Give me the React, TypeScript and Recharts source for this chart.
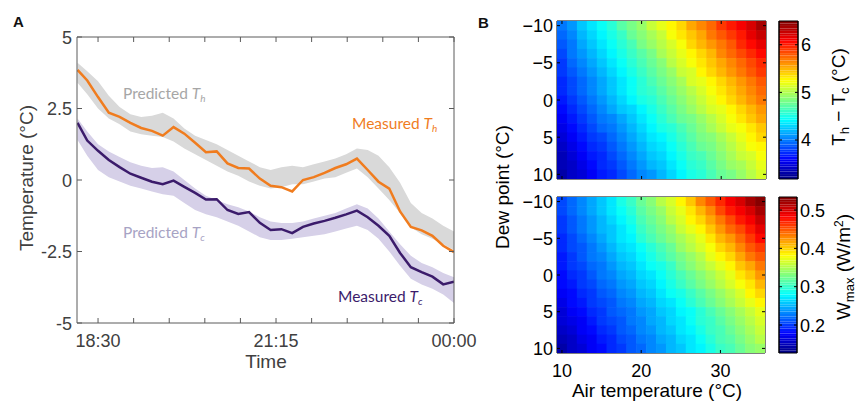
import React from 'react';
import { ComposedChart, Line, Area, XAxis, YAxis, ScatterChart, Scatter, ReferenceArea } from 'recharts';

// ---- panel A: temperatures over the evening (minutes after 18:30) ----
const times = [-19, -10, 0, 10, 20, 30, 40, 50, 60, 70, 80, 90, 100, 110, 120, 130, 140, 150, 160, 170, 180, 190, 200, 210, 220, 230, 240, 250, 260, 270, 280, 290, 300, 310, 320, 330];
const measuredTh = [3.85, 3.48, 2.9, 2.35, 2.21, 2.0, 1.82, 1.72, 1.55, 1.85, 1.62, 1.3, 0.97, 1.0, 0.58, 0.42, 0.4, 0.05, -0.2, -0.25, -0.4, 0.0, 0.1, 0.25, 0.42, 0.55, 0.75, 0.35, -0.06, -0.3, -1.1, -1.64, -1.76, -1.95, -2.3, -2.52];
const measuredTc = [2.0, 1.38, 1.02, 0.7, 0.45, 0.22, 0.08, -0.06, -0.15, -0.02, -0.24, -0.45, -0.68, -0.67, -1.05, -1.19, -1.12, -1.5, -1.75, -1.72, -1.86, -1.64, -1.52, -1.43, -1.32, -1.2, -1.07, -1.3, -1.6, -1.95, -2.55, -3.05, -3.22, -3.38, -3.65, -3.56];
const predThHigh = [4.1, 3.8, 3.45, 2.95, 2.55, 2.3, 2.2, 2.25, 2.35, 2.15, 1.8, 1.55, 1.4, 1.25, 1.05, 0.85, 0.65, 0.45, 0.35, 0.45, 0.5, 0.45, 0.55, 0.65, 0.75, 0.9, 1.1, 1.05, 0.85, 0.45, -0.1, -0.8, -1.15, -1.35, -1.6, -1.8];
const predThLow = [3.4, 3.0, 2.5, 2.15, 1.95, 1.7, 1.6, 1.55, 1.5, 1.35, 1.1, 0.9, 0.7, 0.5, 0.3, 0.15, -0.05, -0.2, -0.3, -0.25, -0.15, -0.15, -0.05, 0.05, 0.1, 0.25, 0.4, 0.1, -0.3, -0.7, -1.15, -1.65, -1.9, -2.05, -2.25, -2.45];
const predTcHigh = [2.15, 1.7, 1.25, 1.0, 0.8, 0.62, 0.5, 0.42, 0.45, 0.3, 0.0, -0.3, -0.55, -0.7, -0.85, -0.95, -1.1, -1.3, -1.45, -1.5, -1.5, -1.45, -1.35, -1.25, -1.15, -1.0, -0.85, -1.0, -1.35, -1.8, -2.25, -2.65, -2.9, -3.05, -3.25, -3.4];
const predTcLow = [1.4, 0.85, 0.35, 0.1, -0.05, -0.2, -0.3, -0.4, -0.5, -0.55, -0.8, -1.05, -1.2, -1.3, -1.45, -1.6, -1.8, -2.0, -2.1, -2.1, -2.05, -2.0, -1.95, -1.9, -1.8, -1.7, -1.6, -1.75, -2.05, -2.5, -3.0, -3.45, -3.65, -3.8, -4.0, -4.3];

const timeTicks = [0, 33, 66, 99, 132, 165, 198, 231, 264, 297, 330];
const timeTickLabels: Record<number, string> = { 0: '18:30', 165: '21:15', 330: '00:00' };
const tempTicks = [-5, -2.5, 0, 2.5, 5];

// ---- panel B: model maps over air temperature x dew point ----
const airTemps = [10, 11.25, 12.5, 13.75, 15, 16.25, 17.5, 18.75, 20, 21.25, 22.5, 23.75, 25, 26.25, 27.5, 28.75, 30, 31.25, 32.5, 33.75, 35];
const dewPoints = [-10, -8.75, -7.5, -6.25, -5, -3.75, -2.5, -1.25, 0, 1.25, 2.5, 3.75, 5, 6.25, 7.5, 8.75, 10];
const airTicks = [10, 20, 30];
const dewTicks = [-10, -5, 0, 5, 10];

// rows follow dewPoints, columns follow airTemps
const deltaTRows = [
  [3.98, 4.10, 4.22, 4.34, 4.46, 4.58, 4.69, 4.81, 4.93, 5.05, 5.17, 5.29, 5.40, 5.52, 5.64, 5.76, 5.88, 6.00, 6.11, 6.23, 6.35],
  [3.93, 4.05, 4.17, 4.28, 4.40, 4.51, 4.63, 4.74, 4.86, 4.98, 5.09, 5.21, 5.32, 5.44, 5.56, 5.67, 5.79, 5.90, 6.02, 6.14, 6.25],
  [3.89, 4.00, 4.12, 4.23, 4.34, 4.46, 4.57, 4.68, 4.80, 4.91, 5.02, 5.14, 5.25, 5.37, 5.48, 5.59, 5.71, 5.82, 5.93, 6.05, 6.16],
  [3.84, 3.96, 4.07, 4.18, 4.29, 4.40, 4.51, 4.62, 4.73, 4.84, 4.95, 5.06, 5.18, 5.29, 5.40, 5.51, 5.62, 5.73, 5.84, 5.95, 6.06],
  [3.80, 3.91, 4.02, 4.13, 4.24, 4.35, 4.45, 4.56, 4.67, 4.78, 4.89, 5.00, 5.11, 5.22, 5.32, 5.43, 5.54, 5.65, 5.76, 5.87, 5.98],
  [3.77, 3.88, 3.98, 4.09, 4.20, 4.30, 4.41, 4.52, 4.62, 4.73, 4.84, 4.94, 5.05, 5.15, 5.26, 5.37, 5.47, 5.58, 5.69, 5.79, 5.90],
  [3.74, 3.85, 3.95, 4.06, 4.16, 4.26, 4.37, 4.47, 4.58, 4.68, 4.78, 4.89, 4.99, 5.10, 5.20, 5.30, 5.41, 5.51, 5.61, 5.72, 5.82],
  [3.72, 3.82, 3.92, 4.02, 4.12, 4.22, 4.33, 4.43, 4.53, 4.63, 4.73, 4.83, 4.94, 5.04, 5.14, 5.24, 5.34, 5.44, 5.54, 5.65, 5.75],
  [3.69, 3.79, 3.89, 3.99, 4.09, 4.19, 4.29, 4.39, 4.49, 4.58, 4.68, 4.78, 4.88, 4.98, 5.08, 5.18, 5.28, 5.38, 5.47, 5.57, 5.67],
  [3.64, 3.73, 3.83, 3.93, 4.03, 4.13, 4.22, 4.32, 4.42, 4.52, 4.62, 4.71, 4.81, 4.91, 5.01, 5.11, 5.20, 5.30, 5.40, 5.50, 5.60],
  [3.58, 3.68, 3.77, 3.87, 3.97, 4.06, 4.16, 4.26, 4.35, 4.45, 4.55, 4.65, 4.74, 4.84, 4.94, 5.03, 5.13, 5.23, 5.32, 5.42, 5.52],
  [3.53, 3.62, 3.72, 3.81, 3.91, 4.01, 4.10, 4.20, 4.29, 4.39, 4.49, 4.58, 4.68, 4.77, 4.87, 4.97, 5.06, 5.16, 5.25, 5.35, 5.45],
  [3.47, 3.57, 3.66, 3.76, 3.85, 3.95, 4.04, 4.14, 4.23, 4.33, 4.42, 4.52, 4.61, 4.70, 4.80, 4.89, 4.99, 5.08, 5.18, 5.27, 5.37],
  [3.43, 3.52, 3.61, 3.71, 3.80, 3.90, 3.99, 4.08, 4.18, 4.27, 4.37, 4.46, 4.55, 4.65, 4.74, 4.83, 4.93, 5.02, 5.11, 5.21, 5.30],
  [3.38, 3.47, 3.57, 3.66, 3.75, 3.85, 3.94, 4.03, 4.12, 4.22, 4.31, 4.40, 4.50, 4.59, 4.68, 4.77, 4.87, 4.96, 5.05, 5.15, 5.24],
  [3.34, 3.43, 3.52, 3.62, 3.71, 3.80, 3.89, 3.98, 4.07, 4.17, 4.26, 4.35, 4.44, 4.53, 4.62, 4.72, 4.81, 4.90, 4.99, 5.08, 5.17],
  [3.30, 3.39, 3.48, 3.57, 3.66, 3.75, 3.84, 3.93, 4.02, 4.11, 4.20, 4.30, 4.39, 4.48, 4.57, 4.66, 4.75, 4.84, 4.93, 5.02, 5.11],
];
const deltaTRange: [number, number] = [3.18, 6.5];
const deltaTTicks = [4, 5, 6];

const wmaxRows = [
  [0.208, 0.221, 0.234, 0.247, 0.259, 0.272, 0.286, 0.302, 0.319, 0.335, 0.351, 0.368, 0.385, 0.405, 0.426, 0.446, 0.467, 0.486, 0.501, 0.515, 0.530],
  [0.205, 0.218, 0.230, 0.243, 0.255, 0.268, 0.281, 0.296, 0.312, 0.328, 0.343, 0.359, 0.375, 0.394, 0.413, 0.432, 0.452, 0.471, 0.486, 0.501, 0.517],
  [0.202, 0.215, 0.227, 0.240, 0.252, 0.264, 0.277, 0.291, 0.306, 0.321, 0.336, 0.351, 0.366, 0.383, 0.400, 0.418, 0.437, 0.456, 0.472, 0.488, 0.504],
  [0.199, 0.211, 0.224, 0.236, 0.248, 0.260, 0.272, 0.285, 0.300, 0.313, 0.328, 0.342, 0.357, 0.371, 0.387, 0.403, 0.422, 0.440, 0.457, 0.474, 0.490],
  [0.196, 0.208, 0.220, 0.232, 0.244, 0.256, 0.267, 0.279, 0.293, 0.306, 0.320, 0.333, 0.347, 0.360, 0.374, 0.389, 0.407, 0.425, 0.442, 0.460, 0.477],
  [0.193, 0.205, 0.216, 0.227, 0.239, 0.250, 0.261, 0.272, 0.285, 0.297, 0.311, 0.324, 0.337, 0.351, 0.364, 0.379, 0.396, 0.412, 0.429, 0.446, 0.463],
  [0.190, 0.201, 0.212, 0.223, 0.234, 0.244, 0.255, 0.266, 0.278, 0.289, 0.301, 0.314, 0.328, 0.341, 0.355, 0.369, 0.384, 0.400, 0.416, 0.433, 0.449],
  [0.187, 0.197, 0.207, 0.218, 0.228, 0.238, 0.248, 0.259, 0.270, 0.280, 0.292, 0.305, 0.318, 0.332, 0.345, 0.358, 0.373, 0.387, 0.402, 0.419, 0.435],
  [0.184, 0.194, 0.203, 0.213, 0.223, 0.232, 0.242, 0.252, 0.262, 0.271, 0.282, 0.295, 0.308, 0.322, 0.335, 0.348, 0.361, 0.374, 0.389, 0.405, 0.420],
  [0.179, 0.189, 0.198, 0.208, 0.218, 0.227, 0.236, 0.246, 0.256, 0.265, 0.276, 0.288, 0.300, 0.313, 0.326, 0.339, 0.351, 0.364, 0.379, 0.394, 0.408],
  [0.174, 0.184, 0.193, 0.203, 0.213, 0.221, 0.231, 0.240, 0.250, 0.259, 0.269, 0.280, 0.291, 0.304, 0.317, 0.329, 0.342, 0.354, 0.368, 0.382, 0.396],
  [0.169, 0.178, 0.187, 0.197, 0.207, 0.216, 0.225, 0.234, 0.244, 0.253, 0.263, 0.273, 0.283, 0.294, 0.307, 0.320, 0.332, 0.344, 0.358, 0.371, 0.383],
  [0.164, 0.173, 0.182, 0.192, 0.202, 0.210, 0.219, 0.228, 0.238, 0.247, 0.256, 0.265, 0.274, 0.285, 0.298, 0.310, 0.322, 0.334, 0.347, 0.359, 0.371],
  [0.159, 0.168, 0.177, 0.187, 0.197, 0.205, 0.215, 0.224, 0.234, 0.243, 0.252, 0.261, 0.270, 0.281, 0.293, 0.305, 0.317, 0.328, 0.341, 0.352, 0.364],
  [0.154, 0.163, 0.172, 0.182, 0.192, 0.201, 0.210, 0.220, 0.229, 0.239, 0.248, 0.257, 0.267, 0.277, 0.288, 0.300, 0.311, 0.322, 0.334, 0.346, 0.357],
  [0.148, 0.158, 0.167, 0.177, 0.187, 0.196, 0.206, 0.215, 0.225, 0.234, 0.244, 0.253, 0.263, 0.273, 0.283, 0.294, 0.306, 0.316, 0.328, 0.339, 0.350],
  [0.143, 0.153, 0.162, 0.172, 0.182, 0.191, 0.201, 0.211, 0.220, 0.230, 0.240, 0.249, 0.259, 0.269, 0.278, 0.289, 0.300, 0.310, 0.321, 0.332, 0.343],
];
const wmaxRange: [number, number] = [0.127, 0.534];
const wmaxTicks = [0.2, 0.3, 0.4, 0.5];

const SANS = '"Liberation Sans", Arial, Helvetica, sans-serif';
const ANNOT = 'Lato, "Open Sans", sans-serif';
const AXIS_A = '#5a5a5a';
const TEXT_A = '#404040';
const ORANGE = '#f07c1e';
const PURPLE = '#3b1b6b';

// MATLAB-like jet, 64 steps
const jet = (n: number) => {
  const k = Math.min(63, Math.max(0, Math.floor(n * 64)));
  const v = (k + 0.5) / 64;
  const c = (a: number) => Math.round(255 * Math.max(0, Math.min(1, a)));
  const r = c(Math.min(4 * v - 1.5, -4 * v + 4.5));
  const g = c(Math.min(4 * v - 0.5, -4 * v + 3.5));
  const b = c(Math.min(4 * v + 0.5, -4 * v + 2.5));
  return `rgb(${r},${g},${b})`;
};

const seriesRows = times.map((t, i) => ({
  t,
  th: measuredTh[i],
  tc: measuredTc[i],
  thBand: [predThLow[i], predThHigh[i]],
  tcBand: [predTcLow[i], predTcHigh[i]],
}));

const gridRows = (rows: number[][]) =>
  dewPoints.flatMap((dew, i) => airTemps.map((air, j) => ({ air, dew, v: rows[i][j] })));

const fmtNeg = (v: number) => (v < 0 ? '\u2212' + Math.abs(v) : String(v));

// ---- tick renderers (inward ticks, matlab style) ----
const timeTickBottom = (p: any) => (
  <g>
    <line x1={p.x} x2={p.x} y1={p.y} y2={p.y - 5} stroke={AXIS_A} />
    {timeTickLabels[p.payload.value] && (
      <text x={p.x} y={p.y + 24} textAnchor="middle" fill={TEXT_A} fontSize={18} fontFamily={SANS}>
        {timeTickLabels[p.payload.value]}
      </text>
    )}
  </g>
);
const timeTickTop = (p: any) => <line x1={p.x} x2={p.x} y1={p.y} y2={p.y + 5} stroke={AXIS_A} />;
const tempTickLeft = (p: any) => (
  <g>
    <line x1={p.x} x2={p.x + 5} y1={p.y} y2={p.y} stroke={AXIS_A} />
    <text x={p.x - 5} y={p.y + 6.5} textAnchor="end" fill={TEXT_A} fontSize={18} fontFamily={SANS}>
      {String(p.payload.value)}
    </text>
  </g>
);
const tempTickRight = (p: any) => <line x1={p.x} x2={p.x - 5} y1={p.y} y2={p.y} stroke={AXIS_A} />;

const hmTickBottom = (labels: boolean) => (p: any) => (
  <g>
    <line x1={p.x} x2={p.x} y1={p.y} y2={p.y - 3} stroke="#000" />
    {labels && (
      <text x={p.x} y={p.y + 24} textAnchor="middle" fill="#000" fontSize={18} fontFamily={SANS}>
        {String(p.payload.value)}
      </text>
    )}
  </g>
);
const hmTickTop = (p: any) => <line x1={p.x} x2={p.x} y1={p.y} y2={p.y + 3} stroke="#000" />;
const hmTickLeft = (p: any) => (
  <g>
    <line x1={p.x} x2={p.x + 3} y1={p.y} y2={p.y} stroke="#000" />
    <text x={p.x - 4} y={p.y + 6.5} textAnchor="end" fill="#000" fontSize={18} fontFamily={SANS}>
      {fmtNeg(p.payload.value)}
    </text>
  </g>
);
const hmTickRight = (p: any) => <line x1={p.x} x2={p.x - 3} y1={p.y} y2={p.y} stroke="#000" />;
const cbTickRight = (p: any) => (
  <g>
    <line x1={p.x} x2={p.x - 3} y1={p.y} y2={p.y} stroke="#000" />
    <text x={p.x + 3} y={p.y + 6.5} textAnchor="start" fill="#000" fontSize={18} fontFamily={SANS}>
      {String(p.payload.value)}
    </text>
  </g>
);
const cbTickLeft = (p: any) => <line x1={p.x} x2={p.x + 3} y1={p.y} y2={p.y} stroke="#000" />;

const Heatmap = (props: {
  rows: number[][]; range: [number, number]; top: number; height: number;
  plotW: number; plotH: number; bottomLabels: boolean; marginTop: number; marginBottom: number;
}) => {
  const { rows, range, plotW, plotH } = props;
  const cw = plotW / airTemps.length;
  const ch = plotH / dewPoints.length;
  const cell = (p: any) => (
    <rect
      x={p.cx - cw / 2}
      y={p.cy - ch / 2}
      width={cw + 0.6}
      height={ch + 0.6}
      fill={jet((p.payload.v - range[0]) / (range[1] - range[0]))}
    />
  );
  return (
    <div style={{ position: 'absolute', left: 500, top: props.top }}>
      <ScatterChart
        width={300}
        height={props.height}
        margin={{ top: props.marginTop, right: 300 - 57 - plotW - 10, bottom: props.marginBottom, left: 17 }}
      >
        <XAxis dataKey="air" type="number" domain={[9.375, 35.625]} ticks={airTicks} allowDataOverflow
          height={10} tickSize={0} tickMargin={0} interval={0} stroke="#000" tick={hmTickBottom(props.bottomLabels)} />
        <XAxis xAxisId="top" orientation="top" dataKey="air" type="number" domain={[9.375, 35.625]} ticks={airTicks}
          allowDataOverflow height={10} tickSize={0} tickMargin={0} interval={0} stroke="#000" tick={hmTickTop} />
        <YAxis dataKey="dew" type="number" domain={[-10.625, 10.625]} reversed ticks={dewTicks} allowDataOverflow
          width={40} tickSize={0} tickMargin={0} interval={0} stroke="#000" tick={hmTickLeft} />
        <YAxis yAxisId="r" orientation="right" dataKey="dew" type="number" domain={[-10.625, 10.625]} reversed
          ticks={dewTicks} allowDataOverflow width={10} tickSize={0} tickMargin={0} interval={0} stroke="#000" tick={hmTickRight} />
        <Scatter data={gridRows(rows)} shape={cell} isAnimationActive={false} />
      </ScatterChart>
    </div>
  );
};

const Colorbar = (props: {
  range: [number, number]; ticks: number[]; top: number; height: number;
  plotW: number; marginTop: number; marginBottom: number;
}) => {
  const { range } = props;
  const steps = Array.from({ length: 64 }, (_, k) => k);
  const span = range[1] - range[0];
  return (
    <div style={{ position: 'absolute', left: 770, top: props.top }}>
      <ComposedChart
        width={89}
        height={props.height}
        data={[{ x: 0 }, { x: 1 }]}
        margin={{ top: props.marginTop, right: 89 - 9 - props.plotW - 10, bottom: props.marginBottom, left: 4 }}
      >
        <XAxis dataKey="x" type="number" domain={[0, 1]} hide />
        <YAxis orientation="right" type="number" domain={range} ticks={props.ticks} allowDataOverflow
          width={10} tickSize={0} tickMargin={0} interval={0} stroke="#000" tick={cbTickRight} />
        <YAxis yAxisId="l" orientation="left" type="number" domain={range} ticks={props.ticks} allowDataOverflow
          width={5} tickSize={0} tickMargin={0} interval={0} stroke="#000" tick={cbTickLeft} />
        {steps.map((k) => (
          <ReferenceArea key={k} x1={0} x2={1} y1={range[0] + (span * k) / 64} y2={range[0] + (span * (k + 1)) / 64}
            fill={jet((k + 0.5) / 64)} fillOpacity={1} stroke="none" />
        ))}
        <ReferenceArea x1={0} x2={1} y1={range[0]} y2={range[1]} fill="none" stroke="#000" />
      </ComposedChart>
    </div>
  );
};

const App: React.FC = () => {
  return (
    <div style={{ position: 'absolute', left: 0, top: 0, width: 859, height: 404, background: '#fff' }}>
      <div style={{ position: 'absolute', left: 0, top: 0 }}>
        <ComposedChart width={492} height={404} data={seriesRows} margin={{ top: 7, right: 28, bottom: 51, left: 17 }}>
          <XAxis dataKey="t" type="number" domain={[-19.5, 330]} ticks={timeTicks} allowDataOverflow
            height={30} tickSize={0} tickMargin={0} interval={0} stroke={AXIS_A} tick={timeTickBottom} />
          <XAxis xAxisId="top" orientation="top" dataKey="t" type="number" domain={[-19.5, 330]} ticks={timeTicks}
            allowDataOverflow height={30} tickSize={0} tickMargin={0} interval={0} stroke={AXIS_A} tick={timeTickTop} />
          <YAxis type="number" domain={[-5, 5]} ticks={tempTicks} allowDataOverflow width={60}
            tickSize={0} tickMargin={0} interval={0} stroke={AXIS_A} tick={tempTickLeft} />
          <YAxis yAxisId="r" orientation="right" type="number" domain={[-5, 5]} ticks={tempTicks} allowDataOverflow
            width={10} tickSize={0} tickMargin={0} interval={0} stroke={AXIS_A} tick={tempTickRight} />
          <Area dataKey="thBand" type="linear" fill="#d9d9d9" fillOpacity={1} stroke="none" isAnimationActive={false} />
          <Area dataKey="tcBand" type="linear" fill="#d6d0e8" fillOpacity={1} stroke="none" isAnimationActive={false} />
          <Line dataKey="th" type="linear" stroke={ORANGE} strokeWidth={2.5} dot={false} isAnimationActive={false} />
          <Line dataKey="tc" type="linear" stroke={PURPLE} strokeWidth={2.5} dot={false} isAnimationActive={false} />
        </ComposedChart>
      </div>

      <Heatmap rows={deltaTRows} range={deltaTRange} top={0} height={200} plotW={209} plotH={158}
        bottomLabels={false} marginTop={11} marginBottom={11} />
      <Heatmap rows={wmaxRows} range={wmaxRange} top={180} height={224} plotW={208} plotH={156}
        bottomLabels marginTop={7} marginBottom={41} />
      <Colorbar range={deltaTRange} ticks={deltaTTicks} top={0} height={200} plotW={19} marginTop={21} marginBottom={21} />
      <Colorbar range={wmaxRange} ticks={wmaxTicks} top={180} height={224} plotW={18} marginTop={17} marginBottom={51} />

      <svg width={859} height={404} style={{ position: 'absolute', left: 0, top: 0, pointerEvents: 'none' }}>
        <text x={13} y={27} fontFamily={SANS} fontWeight="bold" fontSize={15} fill="#111">A</text>
        <text x={478} y={28} fontFamily={SANS} fontWeight="bold" fontSize={15} fill="#111">B</text>

        <text x={33} y={178} transform="rotate(-90 33 178)" textAnchor="middle" fontFamily={SANS} fontSize={19} fill={TEXT_A}>
          Temperature (°C)
        </text>
        <text x={266} y={368} textAnchor="middle" fontFamily={SANS} fontSize={19} fill={TEXT_A}>Time</text>

        <text x={123} y={99} fontFamily={ANNOT} fontSize={15.5} fill="#a6a6a6">
          Predicted <tspan fontStyle="italic">T</tspan><tspan fontStyle="italic" fontSize={10} dy={3}>h</tspan>
        </text>
        <text x={352} y={129} fontFamily={ANNOT} fontSize={15.5} fill={ORANGE}>
          Measured <tspan fontStyle="italic">T</tspan><tspan fontStyle="italic" fontSize={10} dy={3}>h</tspan>
        </text>
        <text x={123} y={238} fontFamily={ANNOT} fontSize={15.5} fill="#a7a3c4">
          Predicted <tspan fontStyle="italic">T</tspan><tspan fontStyle="italic" fontSize={10} dy={3}>c</tspan>
        </text>
        <text x={338} y={302} fontFamily={ANNOT} fontSize={15.5} fill={PURPLE}>
          Measured <tspan fontStyle="italic">T</tspan><tspan fontStyle="italic" fontSize={10} dy={3}>c</tspan>
        </text>

        <text x={509} y={187} transform="rotate(-90 509 187)" textAnchor="middle" fontFamily={SANS} fontSize={19} fill="#000">
          Dew point (°C)
        </text>
        <text x={657} y={397} textAnchor="middle" fontFamily={SANS} fontSize={19} fill="#000">Air temperature (°C)</text>

        <text x={845} y={97} transform="rotate(-90 845 97)" textAnchor="middle" fontFamily={SANS} fontSize={19} fill="#000">
          T<tspan fontSize={13} dy={4}>h</tspan><tspan dy={-4}> − T</tspan><tspan fontSize={13} dy={4}>c</tspan><tspan dy={-4}> (°C)</tspan>
        </text>
        <text x={850} y={267} transform="rotate(-90 850 267)" textAnchor="middle" fontFamily={SANS} fontSize={19} fill="#000">
          W<tspan fontSize={13} dy={4}>max</tspan><tspan dy={-4}> (W/m</tspan><tspan fontSize={12} dy={-7}>2</tspan><tspan dy={7}>)</tspan>
        </text>
      </svg>
    </div>
  );
};

export default App;
